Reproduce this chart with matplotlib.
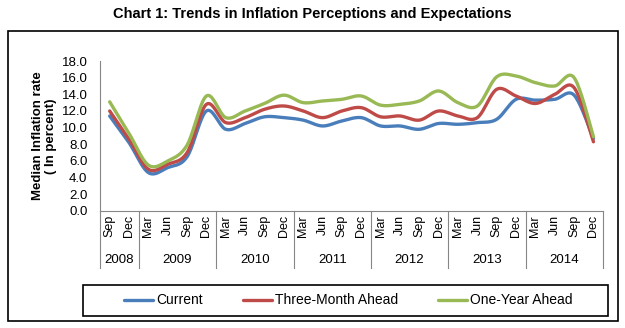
import matplotlib
matplotlib.use("Agg")
import matplotlib.pyplot as plt
import matplotlib.transforms as mtransforms
from matplotlib.patches import Rectangle
import numpy as np

plt.rcParams['font.family'] = ['Liberation Sans', 'DejaVu Sans']

# Quarterly survey rounds, Sep 2008 .. Dec 2014
months = ['Sep', 'Dec'] + ['Mar', 'Jun', 'Sep', 'Dec'] * 6
years = ['2008', '2009', '2010', '2011', '2012', '2013', '2014']
year_sizes = [2, 4, 4, 4, 4, 4, 4]

current = [11.4, 8.2, 4.6, 5.2, 6.5, 12.0, 9.8, 10.5, 11.3, 11.2, 10.9, 10.2, 10.8,
           11.2, 10.2, 10.2, 9.8, 10.5, 10.4, 10.6, 11.0, 13.4, 13.3, 13.4, 13.9, 8.7]
three_month = [12.0, 8.6, 5.0, 5.6, 7.0, 12.8, 10.6, 11.2, 12.2, 12.6, 12.0, 11.2, 12.0,
               12.4, 11.3, 11.4, 10.9, 12.0, 11.4, 11.2, 14.6, 13.8, 12.9, 14.0, 14.8, 8.3]
one_year = [13.1, 9.3, 5.5, 6.0, 7.9, 13.8, 11.2, 12.0, 12.9, 13.9, 13.0, 13.2, 13.4,
            13.8, 12.7, 12.8, 13.2, 14.4, 13.0, 12.6, 16.1, 16.2, 15.4, 15.0, 16.0, 8.9]

series = [
    ('Current', current, '#4A7EBB'),
    ('Three-Month Ahead', three_month, '#BE4B48'),
    ('One-Year Ahead', one_year, '#98B954'),
]


def smooth(y, steps=20):
    # Catmull-Rom style curve through the points, like spreadsheet "smoothed line"
    y = np.asarray(y, dtype=float)
    x = np.arange(len(y), dtype=float)
    px = np.concatenate([[x[0]], x, [x[-1]]])
    py = np.concatenate([[y[0]], y, [y[-1]]])
    xs, ys = [], []
    t = np.linspace(0, 1, steps, endpoint=False)
    for i in range(1, len(px) - 2):
        p0x, p1x, p2x, p3x = px[i - 1:i + 3]
        p0y, p1y, p2y, p3y = py[i - 1:i + 3]
        c1x, c1y = p1x + (p2x - p0x) / 6, p1y + (p2y - p0y) / 6
        c2x, c2y = p2x - (p3x - p1x) / 6, p2y - (p3y - p1y) / 6
        bx = (1 - t) ** 3 * p1x + 3 * (1 - t) ** 2 * t * c1x + 3 * (1 - t) * t ** 2 * c2x + t ** 3 * p2x
        by = (1 - t) ** 3 * p1y + 3 * (1 - t) ** 2 * t * c1y + 3 * (1 - t) * t ** 2 * c2y + t ** 3 * p2y
        xs.extend(bx)
        ys.extend(by)
    xs.append(x[-1])
    ys.append(y[-1])
    return np.array(xs), np.array(ys)


fig = plt.figure(figsize=(6.25, 3.28), dpi=100)
ax = fig.add_axes([0.16, 0.357, 0.805, 0.457])

for name, vals, color in series:
    sx, sy = smooth(vals)
    ax.plot(sx, sy, color=color, lw=2.4, label=name, solid_capstyle='round')

ax.set_xlim(-0.5, len(months) - 0.5)
ax.set_ylim(0, 18)
ax.set_yticks(np.arange(0, 18.1, 2))
ax.set_yticklabels([f'{v:.1f}' for v in np.arange(0, 18.1, 2)], fontsize=9.5)
ax.set_xticks(range(len(months)))
ax.set_xticklabels(months, rotation=90, fontsize=9)
ax.tick_params(axis='x', length=0, pad=3)
ax.tick_params(axis='y', length=0, pad=9)
for s in ['top', 'right']:
    ax.spines[s].set_visible(False)
ax.spines['left'].set_color('#868686')
ax.spines['bottom'].set_color('#868686')

ax.set_ylabel('Median Inflation rate\n( In percent)', fontsize=9.5, fontweight='bold', labelpad=3)

# year groups under the month labels
trans = mtransforms.blended_transform_factory(ax.transData, ax.transAxes)
edge = -0.5
ax.plot([edge, edge], [0, -0.38], color='#868686', lw=0.8, transform=trans, clip_on=False)
for yr, n in zip(years, year_sizes):
    ax.plot([edge + n, edge + n], [0, -0.38], color='#868686', lw=0.8, transform=trans, clip_on=False)
    ax.text(edge + n / 2, -0.325, yr, transform=trans, ha='center', va='center', fontsize=9.5)
    edge += n

fig.text(0.5, 0.958, 'Chart 1: Trends in Inflation Perceptions and Expectations',
         ha='center', va='center', fontsize=10.5, fontweight='bold')

# outer frame and legend box
fig.patches.append(Rectangle((8 / 625, 1 - 321 / 328), 610 / 625, 290 / 328, transform=fig.transFigure,
                             fill=False, edgecolor='black', lw=1.2))
fig.patches.append(Rectangle((83 / 625, 1 - 316 / 328), 525 / 625, 31 / 328, transform=fig.transFigure,
                             fill=False, edgecolor='black', lw=1.2))
fig.legend(loc='center', bbox_to_anchor=(0.557, 1 - 300.5 / 328), ncol=3, frameon=False,
           fontsize=10, handlelength=2.1, handletextpad=0.2, columnspacing=2.9)

fig.savefig('out.png', dpi=100)
